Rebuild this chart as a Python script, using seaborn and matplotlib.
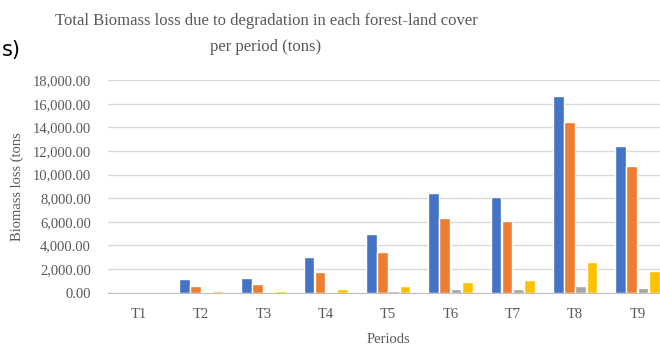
import pandas as pd
import matplotlib.pyplot as plt
import seaborn as sns
from matplotlib.ticker import FuncFormatter

# Valores (toneladas)
periods = ["T1", "T2", "T3", "T4", "T5", "T6", "T7", "T8", "T9"]
cover_a = [0, 1130, 1240, 3050, 4950, 8450, 8120, 16670, 12440]
cover_b = [0, 570, 740, 1730, 3420, 6300, 6070, 14470, 10720]
cover_c = [0, 10, 10, 50, 140, 310, 290, 570, 370]
cover_d = [0, 100, 100, 340, 590, 880, 1050, 2620, 1840]
series_names = ["Cover A", "Cover B", "Cover C", "Cover D"]
series_colors = ["#4472C4", "#ED7D31", "#A5A5A5", "#FFC000"]

df = pd.DataFrame({"period": periods * 4,
                   "cover": [n for n in series_names for _ in periods],
                   "loss": cover_a + cover_b + cover_c + cover_d})

sns.set_style("white")
plt.rcParams["font.family"] = ["Liberation Serif", "DejaVu Serif"]

fig = plt.figure(figsize=(6.6, 3.47), dpi=100)
ax = fig.add_axes([0.163, 0.157, 0.85, 0.612])

sns.barplot(data=df, x="period", y="loss", hue="cover", order=periods,
            hue_order=series_names, palette=series_colors, saturation=1,
            width=0.72, gap=0.05, legend=False, ax=ax)

ax.set_ylim(0, 18000)
ax.set_yticks(range(0, 18001, 2000))
ax.yaxis.set_major_formatter(FuncFormatter(lambda v, p: f"{v:,.2f}"))
ax.tick_params(axis="both", length=0, labelsize=10.5, colors="#595959")
ax.tick_params(axis="x", pad=11)
ax.tick_params(axis="y", pad=12)

ax.grid(axis="y", color="#D9D9D9", linewidth=1)
ax.set_axisbelow(True)
for s in ["top", "right", "left"]:
    ax.spines[s].set_visible(False)
ax.spines["bottom"].set_color("#BFBFBF")

ax.set_xlabel("Periods", fontsize=10.5, color="#595959", labelpad=9)
ax.set_ylabel("Biomass loss (tons", fontsize=10.5, color="#595959", labelpad=6)

fig.text(0.403, 0.94, "Total Biomass loss due to degradation in each forest-land cover",
         ha="center", va="center", fontsize=12, color="#595959")
fig.text(0.403, 0.865, "per period (tons)", ha="center", va="center",
         fontsize=12, color="#595959")
fig.text(0.002, 0.855, "s)", ha="left", va="center", fontsize=15,
         family="DejaVu Sans", color="black")

fig.savefig("out.png", dpi=100)
plt.close()
